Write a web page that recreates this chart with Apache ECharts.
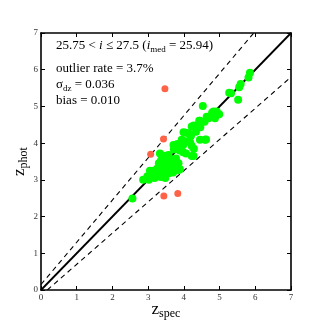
<!DOCTYPE html>
<html>
<head>
<meta charset="utf-8">
<script src="https://cdn.jsdelivr.net/npm/echarts@6/dist/echarts.min.js"></script>
<style>
  html, body { margin: 0; padding: 0; background: #fff; }
  #chart { width: 324px; height: 324px; }
</style>
</head>
<body>
<div id="chart"></div>
<script>
// axis range and ticks
var axisMin = 0
var axisMax = 7
var tickLabels = ['0', '1', '2', '3', '4', '5', '6', '7']

// outlier bounds: zphot = zspec +/- 0.15 (1 + zspec)
var outlierFrac = 0.15

// good objects [zspec, zphot]
var goodPoints = [
  [5.85, 5.92], [5.81, 5.79], [5.59, 5.61], [5.55, 5.52], [5.32, 5.36], [5.27, 5.37], [5.52, 5.18],
  [4.53, 5.01], [4.99, 4.79], [4.92, 4.86], [4.83, 4.86], [4.79, 4.83], [4.87, 4.68], [4.69, 4.68],
  [4.64, 4.72], [4.45, 4.61], [4.43, 4.61], [4.58, 4.58], [4.43, 4.43], [4.28, 4.48], [4.34, 4.31],
  [4.22, 4.45], [4.46, 4.43], [4.13, 4.27], [3.99, 4.30], [4.05, 4.28], [4.20, 4.20], [4.59, 4.09],
  [4.45, 4.09], [4.62, 4.10], [3.94, 4.09], [4.08, 4.05], [4.18, 4.02], [3.82, 3.98], [3.98, 3.95],
  [4.22, 3.92], [4.28, 3.85], [3.71, 3.95], [3.78, 3.93], [3.85, 3.96], [3.90, 3.89], [3.72, 3.83],
  [3.88, 3.80], [4.06, 3.72], [3.98, 3.75], [4.27, 3.65], [4.22, 3.65], [3.57, 3.68], [3.33, 3.72],
  [3.40, 3.66], [3.48, 3.66], [3.52, 3.62], [3.42, 3.59], [3.66, 3.54], [3.60, 3.58], [3.78, 3.58],
  [3.72, 3.50], [3.36, 3.53], [3.45, 3.50], [3.55, 3.48], [3.85, 3.45], [3.30, 3.45], [3.52, 3.41],
  [3.43, 3.41], [3.62, 3.40], [3.68, 3.35], [3.89, 3.29], [3.35, 3.38], [3.25, 3.30], [3.40, 3.32],
  [3.05, 3.25], [3.15, 3.25], [3.20, 3.20], [3.26, 3.11], [3.32, 3.22], [3.50, 3.25], [3.60, 3.28],
  [3.75, 3.28], [3.85, 3.27], [3.58, 3.18], [3.70, 3.20], [3.45, 3.15], [3.12, 3.15], [2.98, 3.10],
  [2.95, 3.03], [2.86, 3.00], [3.02, 3.00], [3.18, 3.05], [3.35, 3.08], [3.48, 3.05], [2.56, 2.49]
]

// catastrophic outliers [zspec, zphot]
var outlierPoints = [
  [3.47, 5.48], [3.43, 4.11], [3.07, 3.70], [3.44, 2.56], [3.83, 2.63]
]

var chartDom = document.getElementById('chart')
var myChart = echarts.init(chartDom)
var option

var serif = 'Liberation Serif'
var upperStart = [axisMin, axisMin + outlierFrac]
var upperEnd = [(axisMax - outlierFrac) / (1 + outlierFrac), axisMax]
var lowerStart = [outlierFrac / (1 - outlierFrac), axisMin]
var lowerEnd = [axisMax, axisMax * (1 - outlierFrac) - outlierFrac]

var textRich = {
  t: { fontFamily: serif, fontSize: 13, fontWeight: 'normal', color: '#000', lineHeight: 16 },
  i: { fontFamily: serif, fontSize: 13, fontWeight: 'normal', fontStyle: 'italic', color: '#000', lineHeight: 16 },
  s: { fontFamily: serif, fontSize: 9, fontWeight: 'normal', color: '#000', padding: [7, 0, 0, 0], lineHeight: 16 }
}

var baseAxis = {
  type: 'value',
  min: axisMin,
  max: axisMax,
  interval: 1,
  splitLine: { show: false },
  axisLine: { show: true, onZero: false, lineStyle: { color: '#000', width: 1.6 } },
  axisTick: { show: true, inside: true, length: 4, lineStyle: { color: '#000', width: 1 } }
}

option = {
  animation: false,
  backgroundColor: '#fff',
  grid: { left: 41, right: 33, top: 33, bottom: 34, outerBoundsMode: 'none', containLabel: false },
  title: [
    {
      left: 51,
      top: 33,
      text: '{t|25.75 < }{i|i}{t| ≤ 27.5 (}{i|i}{s|med}{t| = 25.94)}',
      textStyle: { fontWeight: 'normal', rich: textRich }
    },
    {
      left: 51,
      top: 56,
      text: '{t|outlier rate = 3.7%}\n{t|σ}{s|dz}{t| = 0.036}\n{t|bias = 0.010}',
      textStyle: { fontWeight: 'normal', rich: textRich }
    }
  ],
  xAxis: [
    Object.assign({}, baseAxis, {
      position: 'bottom',
      name: '{z|z}{s|spec}',
      nameLocation: 'middle',
      nameGap: 10,
      nameMoveOverlap: false,
      nameTextStyle: {
        rich: {
          z: { fontFamily: serif, fontSize: 17, color: '#000' },
          s: { fontFamily: serif, fontSize: 12, color: '#000', padding: [8, 0, 0, 0] }
        }
      },
      axisLabel: {
        fontFamily: serif, fontSize: 9, color: '#333', margin: 3,
        formatter: function (v) { return tickLabels[Math.round(v)] }
      }
    }),
    Object.assign({}, baseAxis, { position: 'top', axisLabel: { show: false } })
  ],
  yAxis: [
    Object.assign({}, baseAxis, {
      position: 'left',
      name: '{z|z}{s|phot}',
      nameLocation: 'middle',
      nameGap: 11,
      nameMoveOverlap: false,
      nameRotate: 90,
      nameTextStyle: {
        rich: {
          z: { fontFamily: serif, fontSize: 17, color: '#000' },
          s: { fontFamily: serif, fontSize: 12, color: '#000', padding: [8, 0, 0, 0] }
        }
      },
      axisLabel: {
        fontFamily: serif, fontSize: 9, color: '#333', margin: 3,
        formatter: function (v) { return tickLabels[Math.round(v)] }
      }
    }),
    Object.assign({}, baseAxis, { position: 'right', axisLabel: { show: false } })
  ],
  series: [
    {
      type: 'line',
      data: [[axisMin, axisMin], [axisMax, axisMax]],
      symbol: 'none',
      lineStyle: { color: '#000', width: 1.8 },
      z: 1
    },
    {
      type: 'line',
      data: [upperStart, upperEnd],
      symbol: 'none',
      lineStyle: { color: '#000', width: 1.1, type: [5, 4] },
      z: 1
    },
    {
      type: 'line',
      data: [lowerStart, lowerEnd],
      symbol: 'none',
      lineStyle: { color: '#000', width: 1.1, type: [5, 4] },
      z: 1
    },
    {
      type: 'scatter',
      data: goodPoints,
      symbolSize: 8,
      itemStyle: { color: '#00ff00', opacity: 1 },
      z: 3
    },
    {
      type: 'scatter',
      data: outlierPoints,
      symbolSize: 7,
      itemStyle: { color: '#ff6347', opacity: 1 },
      z: 3
    }
  ]
}

option && myChart.setOption(option)
</script>
</body>
</html>
